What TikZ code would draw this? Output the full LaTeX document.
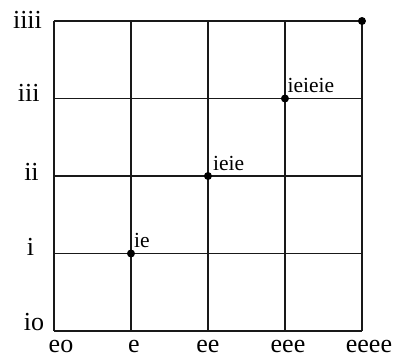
\documentclass[tikz,border=0pt]{standalone}
\usepackage{fontspec}
\setmainfont{Liberation Serif}
\usetikzlibrary{positioning}
\tikzset{
    gridline/.style={line width=1.3pt, draw=black!90},
    dot/.style={circle, fill=black, inner sep=0pt, minimum size=8pt},
    axlabel/.style={font=\fontsize{26}{26}\selectfont, inner sep=0pt, anchor=base},
    dotlabel/.style={font=\fontsize{21.5}{21.5}\selectfont, inner sep=0pt, anchor=base west}
}
\begin{document}
\begin{tikzpicture}[x=77pt, y=77.5pt]
\useasboundingbox (-0.701,-0.348) rectangle (4.416,4.271);
\draw[gridline] (0,0) grid[step=1] (4,4);
% points on the diagonal
\node[dot] (p1) at (1,1) {};
\node[dot] (p2) at (2,2) {};
\node[dot] (p3) at (3,3) {};
\node[dot] (p4) at (4,4) {};
\node[dotlabel] (l1) at ([xshift=3pt, yshift=5.5pt]p1.center) {ie};
\node[dotlabel] (l2) at ([xshift=5pt, yshift=5.5pt]p2.center) {ieie};
\node[dotlabel] (l3) at ([xshift=2.5pt, yshift=6.5pt]p3.center) {ieieie};
% vertical axis
\node[axlabel] (io) at (-0.26,0.004) {io};
\node[axlabel] (i1) at (-0.305,0.98) {i};
\node[axlabel] (i2) at (-0.292,1.948) {ii};
\node[axlabel] (i3) at (-0.329,2.959) {iii};
\node[axlabel] (i4) at (-0.344,3.897) {iiii};
% horizontal axis
\node[axlabel] (eo) at (0.091,-0.275) {eo};
\node[axlabel] (e1) at (1.039,-0.275) {e};
\node[axlabel] (e2) at (2.0,-0.275) {ee};
\node[axlabel] (e3) at (3.039,-0.275) {eee};
\node[axlabel] (e4) at (4.091,-0.275) {eeee};
\end{tikzpicture}
\end{document}
